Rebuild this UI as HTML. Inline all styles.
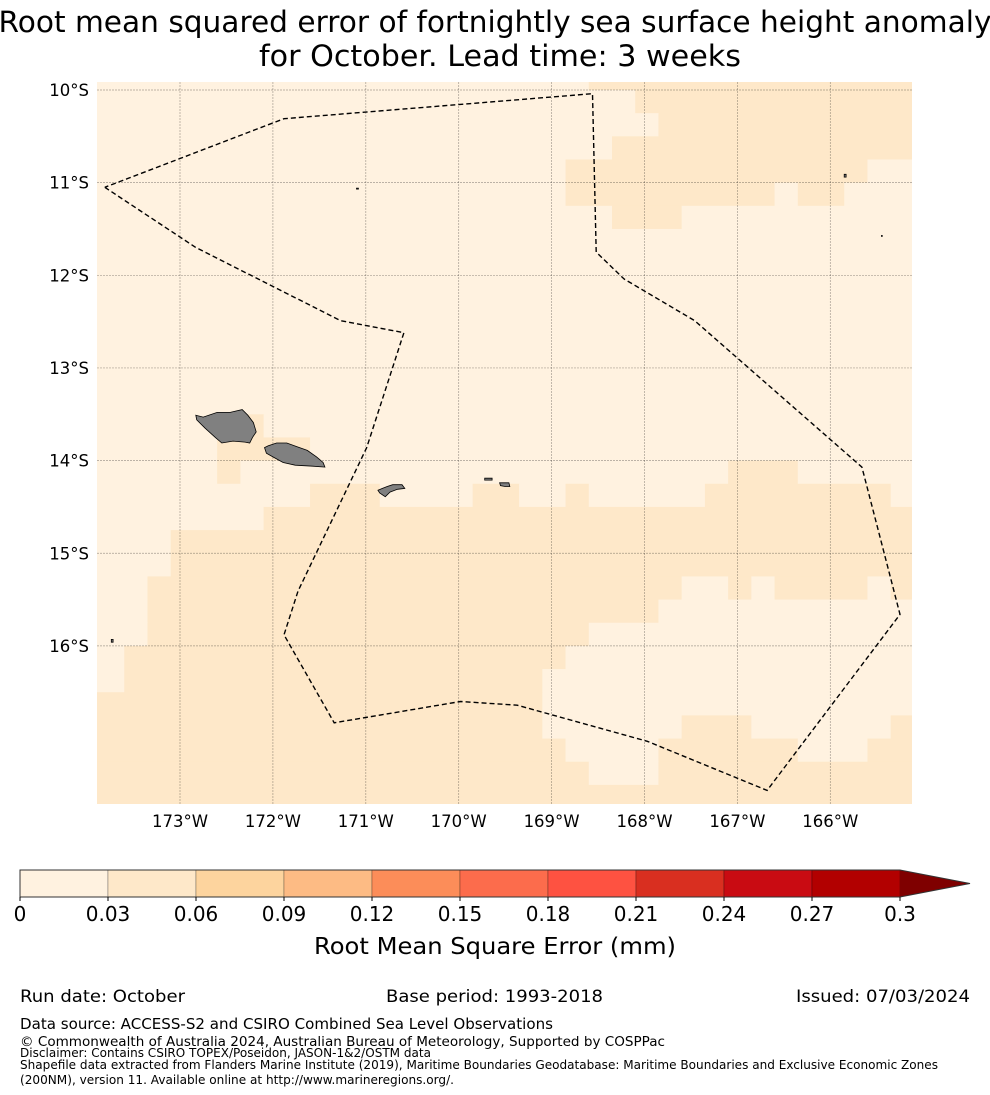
<!DOCTYPE html>
<html><head><meta charset="utf-8"><style>
html,body{margin:0;padding:0;background:#fff;}
svg{display:block;font-family:"DejaVu Sans","Liberation Sans",sans-serif;}
</style></head><body>
<svg id="fig" width="990" height="1095" viewBox="0 0 990 1095" xmlns="http://www.w3.org/2000/svg">
<text x="495" y="32" font-size="29" text-anchor="middle" textLength="993" lengthAdjust="spacingAndGlyphs">Root mean squared error of fortnightly sea surface height anomaly</text>
<text x="500" y="66" font-size="29" text-anchor="middle" textLength="482" lengthAdjust="spacingAndGlyphs">for October. Lead time: 3 weeks</text>
<defs><clipPath id="mapclip"><rect x="97" y="82" width="815" height="722"/></clipPath></defs>
<g id="map" clip-path="url(#mapclip)">
<g id="cells"></g>
<g id="grid"></g>
<g id="land"></g>
<polyline id="eez" fill="none" stroke="#000" stroke-width="1.4" stroke-dasharray="5,3"/>
</g>
<g id="latlabels"></g>
<g id="lonlabels"></g>
<g id="cbar"></g>
<text x="495" y="954" font-size="23" text-anchor="middle" textLength="362" lengthAdjust="spacingAndGlyphs">Root Mean Square Error (mm)</text>
<g font-size="17">
<text x="20" y="1002" textLength="165" lengthAdjust="spacingAndGlyphs">Run date: October</text>
<text x="386" y="1002" textLength="217" lengthAdjust="spacingAndGlyphs">Base period: 1993-2018</text>
<text x="796" y="1002" textLength="174" lengthAdjust="spacingAndGlyphs">Issued: 07/03/2024</text>
<text x="20" y="1029" font-size="15" textLength="533" lengthAdjust="spacingAndGlyphs">Data source: ACCESS-S2 and CSIRO Combined Sea Level Observations</text>
<text x="20" y="1046" font-size="13.5" textLength="645" lengthAdjust="spacingAndGlyphs">© Commonwealth of Australia 2024, Australian Bureau of Meteorology, Supported by COSPPac</text>
<text x="20" y="1057" font-size="12" textLength="411" lengthAdjust="spacingAndGlyphs">Disclaimer: Contains CSIRO TOPEX/Poseidon, JASON-1&amp;2/OSTM data</text>
<text x="20" y="1069" font-size="12" textLength="918" lengthAdjust="spacingAndGlyphs">Shapefile data extracted from Flanders Marine Institute (2019), Maritime Boundaries Geodatabase: Maritime Boundaries and Exclusive Economic Zones</text>
<text x="20" y="1084" font-size="12" textLength="434" lengthAdjust="spacingAndGlyphs">(200NM), version 11. Available online at http://www.marineregions.org/.</text>
</g>
</svg>
<script>
// ---- data ----
const binEdges = [0,0.03,0.06,0.09,0.12,0.15,0.18,0.21,0.24,0.27,0.3];
const binColors = ['#fff2e0','#fee8c9','#fdd49e','#fdbb84','#fc8d59','#fc6c4c','#fe5241','#d92f20','#c90b12','#b20000'];
const overColor = '#7f0000';
const cellLevels = [0.015, 0.045];
// heatmap: run-length per row, pairs of [levelIndex, count]; 0.25° cells, rows from north
const rmseRuns = [
 [0,22,1,15],[0,24,1,13],[0,25,1,12],[0,23,1,14],[0,21,1,13,0,3],
 [0,21,1,9,0,1,1,2,0,4],[0,23,1,3,0,11],[0,37],[0,37],[0,37],[0,37],[0,37],[0,37],[0,37],[0,37],
 [0,6,1,2,0,29],[0,6,1,4,0,27],[0,6,1,1,0,21,1,3,0,6],
 [0,10,1,3,0,4,1,2,0,2,1,1,0,5,1,8,0,1,1,1],
 [0,8,1,29],[0,4,1,33],[0,4,1,33],
 [0,3,1,23,0,2,1,1,0,1,1,4,0,1,1,2],
 [0,3,1,22,0,12],[0,3,1,19,0,15],[0,2,1,19,0,16],[0,2,1,18,0,17],
 [1,20,0,16,1,1],[1,20,0,6,1,3,0,6,1,2],[1,21,0,4,1,6,0,3,1,3],[1,22,0,3,1,12],[1,37]
];
const gridWestLon = -174.1;
const gridNorthLat = -9.75;
const cellDeg = 0.25;
const lonTicks = [-173,-172,-171,-170,-169,-168,-167,-166];
const lonTickLabels = ['173°W','172°W','171°W','170°W','169°W','168°W','167°W','166°W'];
const latTicks = [-10,-11,-12,-13,-14,-15,-16];
const latTickLabels = ['10°S','11°S','12°S','13°S','14°S','15°S','16°S'];
const eezLon = [-173.81,-172.83,-171.27,-170.59,-170.99,-171.73,-171.88,-171.34,-169.98,-169.37,-167.97,-166.68,-165.25,-165.66,-167.46,-168.22,-168.52,-168.56,-171.88,-173.81];
const eezLat = [-11.05,-11.70,-12.49,-12.62,-13.86,-15.41,-15.88,-16.83,-16.60,-16.64,-17.03,-17.56,-15.66,-14.07,-12.49,-12.04,-11.75,-10.04,-10.31,-11.05];
const islands = [
 {name:'savaii', lon:[-172.83,-172.75,-172.60,-172.46,-172.33,-172.27,-172.21,-172.18,-172.22,-172.25,-172.30,-172.43,-172.55,-172.62,-172.73,-172.82], lat:[-13.51,-13.53,-13.48,-13.48,-13.45,-13.51,-13.59,-13.69,-13.75,-13.81,-13.80,-13.79,-13.81,-13.75,-13.65,-13.56]},
 {name:'upolu', lon:[-172.09,-172.05,-171.96,-171.85,-171.74,-171.63,-171.53,-171.46,-171.44,-171.57,-171.76,-171.89,-172.00,-172.07], lat:[-13.86,-13.84,-13.81,-13.81,-13.85,-13.89,-13.96,-14.02,-14.07,-14.06,-14.05,-14.02,-13.96,-13.92]},
 {name:'tutuila', lon:[-170.87,-170.77,-170.71,-170.61,-170.58,-170.66,-170.74,-170.79,-170.85], lat:[-14.32,-14.28,-14.26,-14.26,-14.30,-14.31,-14.34,-14.39,-14.35]},
 {name:'ofu', lon:[-169.72,-169.64,-169.64,-169.72], lat:[-14.19,-14.19,-14.21,-14.21]},
 {name:'tau', lon:[-169.56,-169.46,-169.45,-169.50,-169.55], lat:[-14.24,-14.24,-14.28,-14.28,-14.27]},
 {name:'swains', lon:[-171.10,-171.08,-171.08,-171.10], lat:[-11.06,-11.06,-11.07,-11.07]},
 {name:'fakaofo', lon:[-165.85,-165.83,-165.83,-165.85], lat:[-10.91,-10.91,-10.94,-10.94]},
 {name:'nassau', lon:[-165.45,-165.44,-165.44,-165.45], lat:[-11.57,-11.57,-11.58,-11.58]},
 {name:'west-islet', lon:[-173.74,-173.72,-173.72,-173.74], lat:[-15.93,-15.93,-15.96,-15.96]}
];
// ---- axes ----
const X0=180, PXD=92.9, Y0=90, PYD=92.65;
const xOf = lon => X0 + (lon + 173) * PXD;
const yOf = lat => Y0 + (-10 - lat) * PYD;
const NS='http://www.w3.org/2000/svg';
function mk(tag, parent, attrs){const e=document.createElementNS(NS,tag);for(const k in attrs)e.setAttribute(k,attrs[k]);parent.appendChild(e);return e;}
function colorFor(v){for(let i=0;i<binColors.length;i++){if(v<binEdges[i+1])return binColors[i];}return overColor;}
const cells=document.getElementById('cells');
rmseRuns.forEach((runs,r)=>{
  let c=0;
  for(let i=0;i<runs.length;i+=2){
    const lvl=runs[i], n=runs[i+1];
    const lonW=gridWestLon+c*cellDeg, latN=gridNorthLat-r*cellDeg;
    const x=xOf(lonW), y=yOf(latN);
    const rc=mk('rect',cells,{x:x.toFixed(2),y:y.toFixed(2),width:(n*cellDeg*PXD+0.6).toFixed(2),height:(cellDeg*PYD+0.6).toFixed(2),fill:colorFor(cellLevels[lvl])});
    
    
    c+=n;
  }
});
const grid=document.getElementById('grid');
lonTicks.forEach(lon=>{const l=mk('line',grid,{x1:xOf(lon),x2:xOf(lon),y1:82,y2:804,stroke:'#000','stroke-opacity':0.35,'stroke-width':0.7,'stroke-dasharray':'2,1'});
 
 });
latTicks.forEach(lat=>{const l=mk('line',grid,{x1:97,x2:912,y1:yOf(lat),y2:yOf(lat),stroke:'#000','stroke-opacity':0.35,'stroke-width':0.7,'stroke-dasharray':'2,1'});
 
 });
const land=document.getElementById('land');
islands.forEach(is=>{const pts=is.lon.map((lo,i)=>xOf(lo).toFixed(1)+','+yOf(is.lat[i]).toFixed(1)).join(' ');
 const p=mk('polygon',land,{points:pts,fill:'#808080',stroke:'#000','stroke-width':0.8});
 
 });
document.getElementById('eez').setAttribute('points',eezLon.map((lo,i)=>xOf(lo).toFixed(1)+','+yOf(eezLat[i]).toFixed(1)).join(' '));
const latG=document.getElementById('latlabels');
latTicks.forEach((lat,i)=>{const t=mk('text',latG,{x:89,y:yOf(lat)+6,'font-size':16.5,'text-anchor':'end'});t.textContent=latTickLabels[i];
 
 });
const lonG=document.getElementById('lonlabels');
lonTicks.forEach((lon,i)=>{const t=mk('text',lonG,{x:xOf(lon),y:827,'font-size':16.5,'text-anchor':'middle'});t.textContent=lonTickLabels[i];
 
 });
const cb=document.getElementById('cbar');
const CB0=20, CB1=900, CBY=870, CBH=27;
const cx=v=>CB0+(v-binEdges[0])/(binEdges[binEdges.length-1]-binEdges[0])*(CB1-CB0);
binColors.forEach((col,i)=>{const r=mk('rect',cb,{x:cx(binEdges[i]),y:CBY,width:cx(binEdges[i+1])-cx(binEdges[i]),height:CBH,fill:col,stroke:'rgba(0,0,0,0.25)','stroke-width':1});
 
 });
const ext=mk('polygon',cb,{points:`${CB1},${CBY} 970,${CBY+CBH/2} ${CB1},${CBY+CBH}`,fill:overColor});


const outline=mk('polygon',cb,{points:`${CB0},${CBY} ${CB1},${CBY} 970,${CBY+CBH/2} ${CB1},${CBY+CBH} ${CB0},${CBY+CBH}`,fill:'none',stroke:'#333','stroke-width':1});


binEdges.forEach(v=>{const tk=mk('line',cb,{x1:cx(v),x2:cx(v),y1:CBY+CBH,y2:CBY+CBH+4,stroke:'#000'});
 
 
 const t=mk('text',cb,{x:cx(v),y:921,'font-size':20,'text-anchor':'middle'});t.textContent=String(v);
 
 });
</script>
</body></html>
